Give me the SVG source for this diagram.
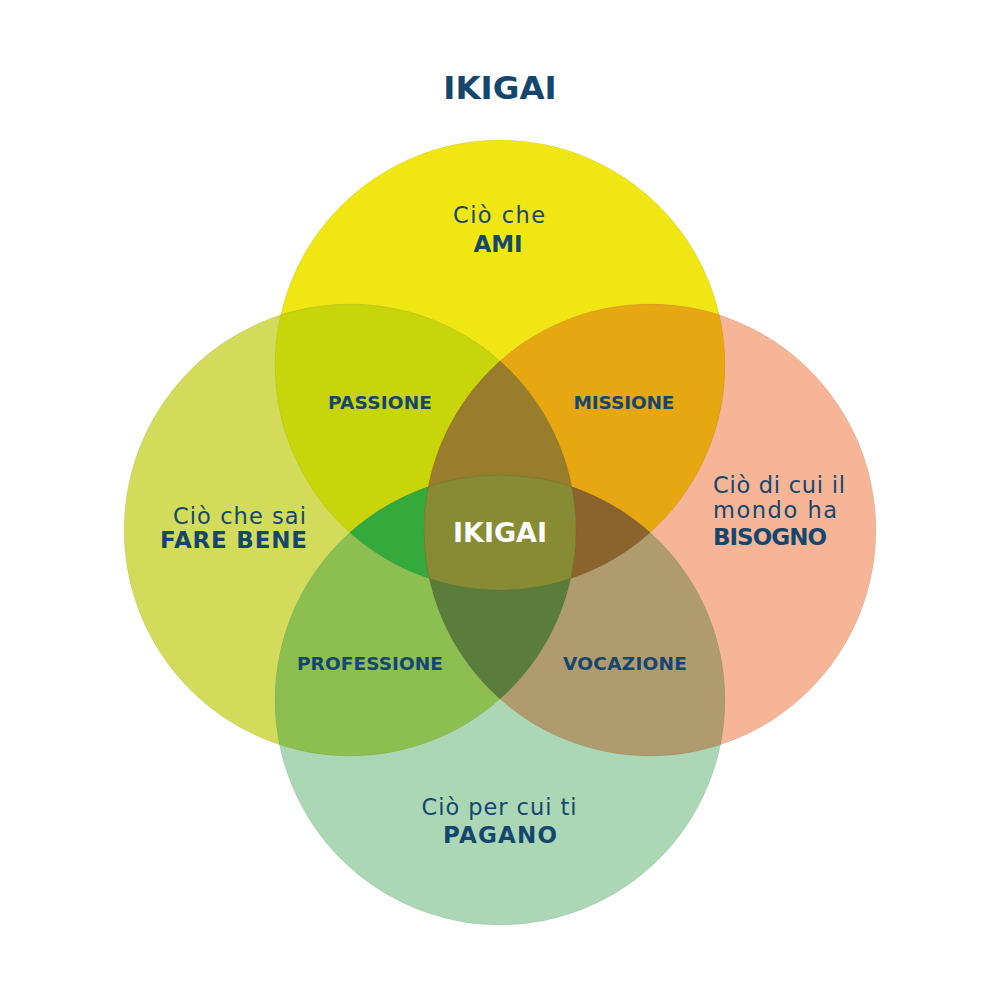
<svg xmlns="http://www.w3.org/2000/svg" width="1000" height="1000" viewBox="0 0 1000 1000">
<style>
.t{font-family:"DejaVu Sans","Liberation Sans",sans-serif;fill:#15466E}
.r{font-size:22.5px;font-weight:400}
.b{font-size:23px;font-weight:700}
.s{font-size:18.5px;font-weight:700}
.edge{fill:none;stroke:#000;stroke-opacity:0.06;stroke-width:1}
</style>
<defs>
<clipPath id="cT"><circle cx="500" cy="365" r="225"/></clipPath>
<clipPath id="cL"><circle cx="350" cy="530" r="226"/></clipPath>
<clipPath id="cR"><circle cx="650" cy="530" r="226"/></clipPath>
<clipPath id="cB"><circle cx="500" cy="700" r="225"/></clipPath>
</defs>
<rect width="1000" height="1000" fill="#FFFFFF"/>
<text class="t" x="500" y="99" text-anchor="middle" font-size="32.5" font-weight="700">IKIGAI</text>
<g id="circles">
<circle id="circle-top" cx="500" cy="365" r="225" fill="#F0E614"/>
<circle id="circle-left" cx="350" cy="530" r="226" fill="#D3DC5A"/>
<circle id="circle-right" cx="650" cy="530" r="226" fill="#F6B597"/>
<circle id="circle-bottom" cx="500" cy="700" r="225" fill="#ABD7B5"/>
</g>
<g id="overlaps">
<g clip-path="url(#cL)"><circle cx="500" cy="365" r="225" fill="#C9D50B"/></g>
<g clip-path="url(#cR)"><circle cx="500" cy="365" r="225" fill="#E6A710"/></g>
<g clip-path="url(#cL)"><circle cx="500" cy="700" r="225" fill="#8CBF4F"/></g>
<g clip-path="url(#cR)"><circle cx="500" cy="700" r="225" fill="#B09B6E"/></g>
<g clip-path="url(#cL)"><g clip-path="url(#cB)"><circle cx="500" cy="365" r="225" fill="#33AA3B"/></g></g>
<g clip-path="url(#cR)"><g clip-path="url(#cB)"><circle cx="500" cy="365" r="225" fill="#8A632D"/></g></g>
<g clip-path="url(#cL)"><g clip-path="url(#cR)"><circle cx="500" cy="365" r="225" fill="#977D2C"/></g></g>
<g clip-path="url(#cL)"><g clip-path="url(#cR)"><circle cx="500" cy="700" r="225" fill="#5A7D3C"/></g></g>
<g clip-path="url(#cL)"><g clip-path="url(#cR)"><g clip-path="url(#cB)"><circle cx="500" cy="365" r="225" fill="#878B33"/></g></g></g>
</g>
<g id="edges">
<circle class="edge" cx="500" cy="365" r="225"/>
<circle class="edge" cx="350" cy="530" r="226"/>
<circle class="edge" cx="650" cy="530" r="226"/>
<circle class="edge" cx="500" cy="700" r="225"/>
</g>
<g id="label-ami">
<text class="t r" x="499" y="223" text-anchor="middle" textLength="92" lengthAdjust="spacing">Ciò che</text>
<text class="t b" x="498" y="252" text-anchor="middle">AMI</text>
</g>
<g id="label-fare-bene">
<text class="t r" x="306" y="524" text-anchor="end" textLength="133" lengthAdjust="spacing">Ciò che sai</text>
<text class="t b" x="307" y="548" text-anchor="end" textLength="147" lengthAdjust="spacing">FARE BENE</text>
</g>
<g id="label-bisogno">
<text class="t r" x="713" y="493" textLength="132" lengthAdjust="spacing">Ciò di cui il</text>
<text class="t r" x="713" y="518" textLength="124" lengthAdjust="spacing">mondo ha</text>
<text class="t b" x="713" y="545" textLength="114" lengthAdjust="spacing">BISOGNO</text>
</g>
<g id="label-pagano">
<text class="t r" x="499" y="815" text-anchor="middle" textLength="155" lengthAdjust="spacing">Ciò per cui ti</text>
<text class="t b" x="500" y="843" text-anchor="middle" textLength="114" lengthAdjust="spacing">PAGANO</text>
</g>
<g id="label-passione"><text class="t s" x="380" y="409" text-anchor="middle" textLength="104" lengthAdjust="spacing">PASSIONE</text></g>
<g id="label-missione"><text class="t s" x="624" y="409" text-anchor="middle" textLength="101" lengthAdjust="spacing">MISSIONE</text></g>
<g id="label-professione"><text class="t s" x="370" y="670" text-anchor="middle" textLength="146" lengthAdjust="spacing">PROFESSIONE</text></g>
<g id="label-vocazione"><text class="t s" x="625" y="670" text-anchor="middle" textLength="124" lengthAdjust="spacing">VOCAZIONE</text></g>
<g id="label-ikigai"><text x="500" y="542" text-anchor="middle" font-family="DejaVu Sans, Liberation Sans, sans-serif" font-size="27" font-weight="700" fill="#FFFFFF" textLength="94" lengthAdjust="spacing">IKIGAI</text></g>
</svg>
